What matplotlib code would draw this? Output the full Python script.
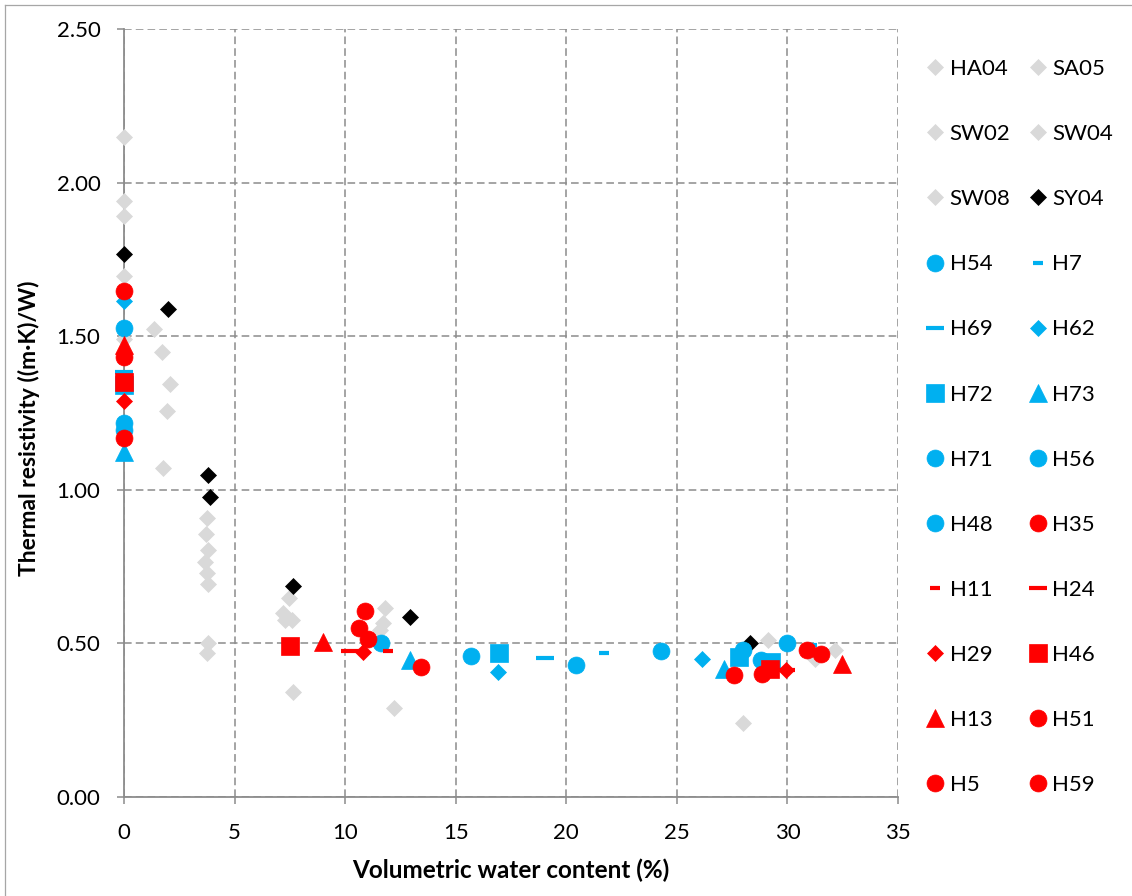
import matplotlib
matplotlib.use("Agg")
import matplotlib.pyplot as plt
from matplotlib.lines import Line2D

plt.rcParams['font.family'] = ['Lato', 'DejaVu Sans']

# ---- data: volumetric water content (%) vs thermal resistivity ((m·K)/W) ----
HA04_x = [0, 1.37, 3.77, 7.45, 11.8, 29.14]
HA04_y = [2.15, 1.525, 0.907, 0.647, 0.614, 0.511]
SA05_x = [0, 1.70, 3.69, 3.81, 7.2, 11.73, 32.16]
SA05_y = [1.94, 1.45, 0.855, 0.50, 0.598, 0.565, 0.48]
SW02_x = [0, 2.09, 3.81, 3.77, 7.3, 11.58, 31.25]
SW02_y = [1.89, 1.345, 0.804, 0.468, 0.576, 0.543, 0.45]
SW04_x = [0, 1.96, 3.66, 7.6, 12.21]
SW04_y = [1.695, 1.257, 0.766, 0.576, 0.289]
SW08_x = [0, 1.78, 3.74, 3.78, 7.66, 27.98]
SW08_y = [1.49, 1.072, 0.728, 0.693, 0.343, 0.242]
SY04_x = [0, 1.97, 3.81, 3.89, 7.63, 12.93, 28.3]
SY04_y = [1.768, 1.588, 1.047, 0.978, 0.688, 0.586, 0.50]

H54_x = [0, 15.7, 28.01]
H54_y = [1.526, 0.459, 0.478]
H7_x = [21.71, 31.1]
H7_y = [0.468, 0.495]
H69_x = [0, 19.04]
H69_y = [1.385, 0.453]
H62_x = [0, 16.9, 26.13]
H62_y = [1.615, 0.408, 0.45]
H72_x = [0, 16.97, 27.83, 29.25]
H72_y = [1.34, 0.468, 0.457, 0.44]
H73_x = [0, 12.93, 27.14]
H73_y = [1.124, 0.446, 0.418]
H71_x = [0, 20.43, 28.81]
H71_y = [1.216, 0.431, 0.446]
H56_x = [0, 24.27, 30.0]
H56_y = [1.195, 0.475, 0.502]
H48_x = [11.63]
H48_y = [0.50]

H35_x = [0, 10.9, 27.59]
H35_y = [1.647, 0.606, 0.397]
H11_x = [11.94]
H11_y = [0.476]
H24_x = [10.2, 29.95]
H24_y = [0.476, 0.415]
H29_x = [0, 10.83, 29.94]
H29_y = [1.289, 0.473, 0.413]
H46_x = [0, 7.52, 29.22]
H46_y = [1.352, 0.491, 0.418]
H13_x = [0, 8.99, 32.46]
H13_y = [1.47, 0.505, 0.434]
H51_x = [0, 10.64, 28.84]
H51_y = [1.433, 0.549, 0.402]
H5_x = [0, 11.05, 30.9]
H5_y = [1.167, 0.513, 0.478]
H59_x = [13.45, 31.5]
H59_y = [0.422, 0.467]

x_ticks = [0, 5, 10, 15, 20, 25, 30, 35]
y_ticks = [0.0, 0.5, 1.0, 1.5, 2.0, 2.5]

# ---- styles ----
GREY, BLACK, BLUE, RED = '#D9D9D9', '#000000', '#00B0F0', '#FF0000'
shape = {
    'circle':   dict(marker='o', ms=12.2, mew=0.5),
    'square':   dict(marker='s', ms=13.5, mew=0.5),
    'diamond':  dict(marker='D', ms=8.6, mew=0.5),
    'triangle': dict(marker='^', ms=13.0, mew=0.5),
    'longdash': dict(marker='_', ms=13.5, mew=3.0),
    'shortdash': dict(marker='_', ms=7.0, mew=3.0),
}

series = [
    ('HA04', HA04_x, HA04_y, GREY, 'diamond'),
    ('SA05', SA05_x, SA05_y, GREY, 'diamond'),
    ('SW02', SW02_x, SW02_y, GREY, 'diamond'),
    ('SW04', SW04_x, SW04_y, GREY, 'diamond'),
    ('SW08', SW08_x, SW08_y, GREY, 'diamond'),
    ('SY04', SY04_x, SY04_y, BLACK, 'diamond'),
    ('H54', H54_x, H54_y, BLUE, 'circle'),
    ('H7', H7_x, H7_y, BLUE, 'shortdash'),
    ('H69', H69_x, H69_y, BLUE, 'longdash'),
    ('H62', H62_x, H62_y, BLUE, 'diamond'),
    ('H72', H72_x, H72_y, BLUE, 'square'),
    ('H73', H73_x, H73_y, BLUE, 'triangle'),
    ('H71', H71_x, H71_y, BLUE, 'circle'),
    ('H56', H56_x, H56_y, BLUE, 'circle'),
    ('H48', H48_x, H48_y, BLUE, 'circle'),
    ('H35', H35_x, H35_y, RED, 'circle'),
    ('H11', H11_x, H11_y, RED, 'shortdash'),
    ('H24', H24_x, H24_y, RED, 'longdash'),
    ('H29', H29_x, H29_y, RED, 'diamond'),
    ('H46', H46_x, H46_y, RED, 'square'),
    ('H13', H13_x, H13_y, RED, 'triangle'),
    ('H51', H51_x, H51_y, RED, 'circle'),
    ('H5', H5_x, H5_y, RED, 'circle'),
    ('H59', H59_x, H59_y, RED, 'circle'),
]

W, H = 1132, 896
fig = plt.figure(figsize=(W / 100, H / 100), dpi=100)
ax = fig.add_axes([124 / W, 1 - 797 / H, (898 - 124) / W, (797 - 29) / H])

handles = {}
for i, (name, xs, ys, col, shp) in enumerate(series):
    st = shape[shp]
    h, = ax.plot(xs, ys, linestyle='none', marker=st['marker'], markersize=st['ms'],
                 markerfacecolor=col, markeredgecolor=col, markeredgewidth=st['mew'],
                 label=name, zorder=3 + i * 0.01, clip_on=False)
    handles[name] = h

ax.set_xlim(0, 35)
ax.set_ylim(0, 2.5)
ax.set_xticks(x_ticks)
ax.set_yticks(y_ticks)
ax.set_xticklabels([str(v) for v in x_ticks])
ax.set_yticklabels([f'{v:.2f}' for v in y_ticks])

GRID = '#8C8C8C'
ax.grid(True, color=GRID, linewidth=1.1, linestyle=(0, (5, 2.7)), zorder=1)
ax.set_axisbelow(True)
for s in ('top', 'right'):
    ax.spines[s].set_visible(False)
for s in ('left', 'bottom'):
    ax.spines[s].set_color(GRID)
    ax.spines[s].set_linewidth(1.3)
    ax.spines[s].set_zorder(2)
ax.tick_params(axis='both', direction='out', length=5, width=1.1, color=GRID,
               labelsize=16, labelcolor='black')
ax.tick_params(axis='y', pad=12)
ax.tick_params(axis='x', pad=14)

ax.set_xlabel('Volumetric water content (%)', fontsize=17.5, fontweight='bold', labelpad=11)
ax.set_ylabel('Thermal resistivity ((m·K)/W)', fontsize=16.5, fontweight='bold')
ax.yaxis.set_label_coords((40 - 124) / 774, 0.48)

# legend laid out row by row in two columns
names = [s[0] for s in series]
col1 = names[0::2]
col2 = names[1::2]
order = col1 + col2
leg = ax.legend([handles[n] for n in order], order, loc='upper left',
                bbox_to_anchor=(924 / W, 1 - 59 / H), bbox_transform=fig.transFigure,
                ncol=2, frameon=False, fontsize=16, handlelength=1.0,
                handletextpad=0.15, columnspacing=0.72, labelspacing=2.03,
                borderaxespad=0, borderpad=0)

# thin outline along the top and left edges of the figure
edge = '#A6A6A6'
fig.add_artist(Line2D([5 / W, 5 / W], [0, 1 - 5 / H], color=edge, lw=0.9,
                      transform=fig.transFigure))
fig.add_artist(Line2D([5 / W, 1], [1 - 5 / H, 1 - 5 / H], color=edge, lw=0.9,
                      transform=fig.transFigure))

fig.savefig('out.png', dpi=100)
